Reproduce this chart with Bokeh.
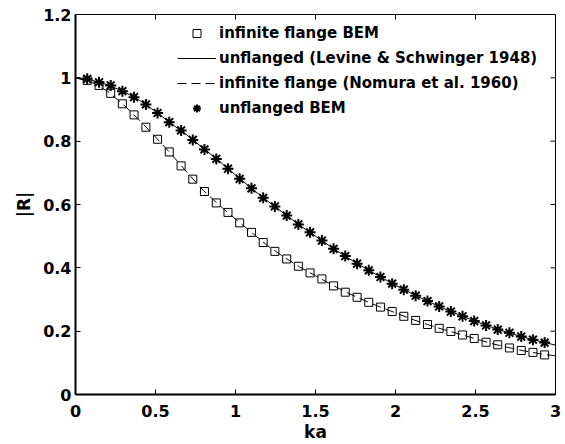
import math
from bokeh.plotting import figure
from bokeh.models import Range1d, FixedTicker, Legend, LegendItem
from bokeh.embed import file_html
from bokeh.resources import INLINE

# ---- data ----
ka_bem = [0.073, 0.147, 0.220, 0.293, 0.366, 0.440, 0.513, 0.586, 0.660, 0.733,
          0.806, 0.880, 0.953, 1.026, 1.100, 1.173, 1.246, 1.320, 1.393, 1.466,
          1.540, 1.613, 1.686, 1.760, 1.833, 1.906, 1.979, 2.052, 2.126, 2.200,
          2.273, 2.346, 2.419, 2.492, 2.566, 2.639, 2.712, 2.786, 2.859, 2.932]
flange_bem = [0.992, 0.976, 0.951, 0.918, 0.883, 0.844, 0.806, 0.766, 0.722, 0.680,
              0.641, 0.605, 0.575, 0.542, 0.512, 0.480, 0.452, 0.428, 0.405, 0.384,
              0.365, 0.343, 0.323, 0.307, 0.291, 0.276, 0.262, 0.247, 0.234, 0.221,
              0.209, 0.199, 0.188, 0.177, 0.165, 0.157, 0.147, 0.139, 0.133, 0.125]
unflanged_bem = [0.997, 0.986, 0.976, 0.958, 0.939, 0.916, 0.889, 0.860, 0.834, 0.804,
                 0.774, 0.744, 0.713, 0.681, 0.651, 0.621, 0.594, 0.565, 0.537, 0.512,
                 0.486, 0.460, 0.437, 0.413, 0.392, 0.371, 0.350, 0.331, 0.312, 0.295,
                 0.278, 0.262, 0.247, 0.232, 0.218, 0.205, 0.195, 0.183, 0.173, 0.164]

ka_theory = [0.0, 0.1, 0.2, 0.3, 0.4, 0.5, 0.6, 0.7, 0.8, 0.9, 1.0,
             1.1, 1.2, 1.3, 1.4, 1.5, 1.6, 1.7, 1.8, 1.9, 2.0,
             2.1, 2.2, 2.3, 2.4, 2.5, 2.6, 2.7, 2.8, 2.9, 3.0]
unflanged_levine = [1.000, 0.993, 0.978, 0.957, 0.929, 0.894, 0.855, 0.818, 0.777, 0.736, 0.693,
                    0.651, 0.611, 0.573, 0.535, 0.500, 0.465, 0.432, 0.402, 0.373, 0.345,
                    0.319, 0.295, 0.272, 0.251, 0.231, 0.212, 0.196, 0.181, 0.168, 0.156]
flange_nomura = [1.000, 0.986, 0.958, 0.915, 0.866, 0.813, 0.758, 0.700, 0.644, 0.597, 0.554,
                 0.512, 0.470, 0.435, 0.403, 0.375, 0.347, 0.321, 0.298, 0.277, 0.258,
                 0.238, 0.221, 0.205, 0.191, 0.176, 0.161, 0.149, 0.138, 0.129, 0.122]

x_ticks = [0, 0.5, 1, 1.5, 2, 2.5, 3]
x_tick_labels = ["0", "0.5", "1", "1.5", "2", "2.5", "3"]
y_ticks = [0, 0.2, 0.4, 0.6, 0.8, 1.0, 1.2]
y_tick_labels = ["0", "0.2", "0.4", "0.6", "0.8", "1", "1.2"]

legend_labels = ["infinite flange BEM",
                 "unflanged (Levine & Schwinger 1948)",
                 "infinite flange (Nomura et al. 1960)",
                 "unflanged BEM"]

FONT = "DejaVu Sans"
X0, X1 = x_ticks[0], x_ticks[-1]
Y0, Y1 = y_ticks[0], y_ticks[-1]

p = figure(frame_width=480, frame_height=380,
           x_range=Range1d(X0, X1), y_range=Range1d(Y0, Y1),
           output_backend="svg", toolbar_location=None,
           min_border_left=75, min_border_right=6, min_border_top=14, min_border_bottom=48,
           background_fill_color="white", border_fill_color="white")
p.grid.visible = False
p.outline_line_color = "black"
p.outline_line_width = 1

p.xaxis.ticker = FixedTicker(ticks=x_ticks)
p.xaxis.major_label_overrides = {t: l for t, l in zip(x_ticks, x_tick_labels)}
p.yaxis.ticker = FixedTicker(ticks=y_ticks)
p.yaxis.major_label_overrides = {t: l for t, l in zip(y_ticks, y_tick_labels)}
p.xaxis.axis_label = "ka"
p.yaxis.axis_label = "|R|"

for ax in (p.xaxis[0], p.yaxis[0]):
    ax.axis_line_width = 2
    ax.axis_line_color = "black"
    ax.major_tick_in = 5
    ax.major_tick_out = 0
    ax.major_tick_line_color = "black"
    ax.minor_tick_line_color = None
    ax.major_label_text_font = FONT
    ax.major_label_text_font_style = "bold"
    ax.major_label_text_font_size = "16px"
    ax.major_label_text_color = "black"
    ax.axis_label_text_font = FONT
    ax.axis_label_text_font_style = "bold"
    ax.axis_label_text_font_size = "17px"
    ax.axis_label_text_color = "black"
p.xaxis.major_label_standoff = 10
p.xaxis.axis_label_standoff = 2
p.yaxis.major_label_standoff = 4
p.yaxis.axis_label_standoff = 6

# inward tick marks on the top and right edges of the box
p.ray(x=x_ticks, y=[Y1] * len(x_ticks), length=5, length_units="screen",
      angle=-math.pi / 2, line_color="black", line_width=1)
p.ray(x=[X1] * len(y_ticks), y=y_ticks, length=5, length_units="screen",
      angle=math.pi, line_color="black", line_width=1)

r_ls = p.line(ka_theory, unflanged_levine, line_color="black", line_width=1)
r_nom = p.line(ka_theory, flange_nomura, line_color="black", line_width=1, line_dash="9 5")
r_fb = p.scatter(ka_bem, flange_bem, marker="square", size=8, fill_color=None,
                 line_color="black", line_width=1)
r_ub = p.scatter(ka_bem, unflanged_bem, marker="asterisk", size=11,
                 line_color="black", line_width=2)

legend = Legend(items=[LegendItem(label=legend_labels[0], renderers=[r_fb]),
                       LegendItem(label=legend_labels[1], renderers=[r_ls]),
                       LegendItem(label=legend_labels[2], renderers=[r_nom]),
                       LegendItem(label=legend_labels[3], renderers=[r_ub])],
                location=(102, 276), padding=0, margin=0,
                border_line_color=None, background_fill_alpha=0,
                glyph_width=39, glyph_height=20, label_height=20, spacing=5,
                label_standoff=3, label_text_font=FONT, label_text_font_style="bold",
                label_text_font_size="15px", label_text_color="black")
p.add_layout(legend)

open("out.html", "w").write(file_html(p, INLINE))
